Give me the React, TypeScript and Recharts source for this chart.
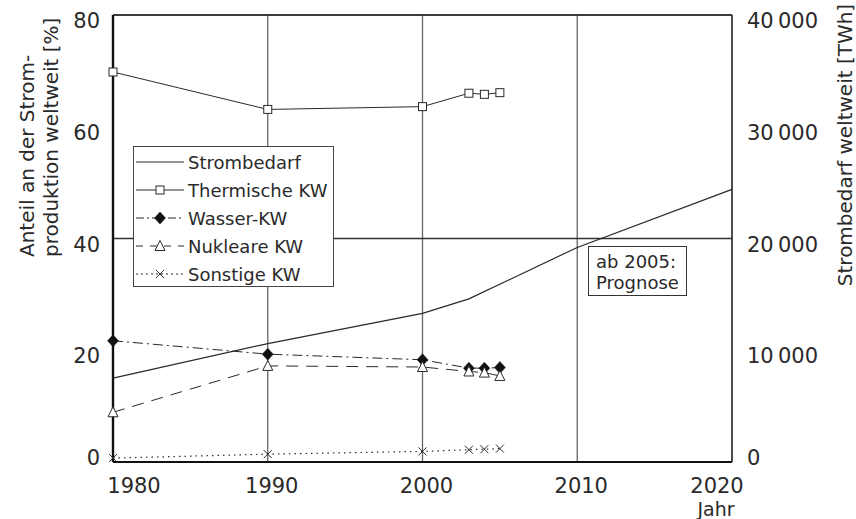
import React from 'react';
import { LineChart, Line, XAxis, YAxis, CartesianGrid, ReferenceLine } from 'recharts';

// ---- data ----
const shareYears = [1980, 1990, 2000, 2003, 2004, 2005];
const thermische = [69.8, 63.1, 63.6, 66.0, 65.8, 66.1];
const wasser = [21.7, 19.3, 18.3, 16.8, 16.8, 16.9];
const nukleare = [8.9, 17.2, 17.0, 16.2, 16.0, 15.4];
const sonstige = [0.7, 1.4, 1.9, 2.2, 2.3, 2.4];

const demandYears = [1980, 1990, 2000, 2003, 2010, 2020];
const strombedarf = [7500, 10600, 13300, 14600, 19200, 24400];

const xTicks = [1980, 1990, 2000, 2010, 2020];
const leftTicks = [0, 20, 40, 60, 80];
const rightTicks = [0, 10000, 20000, 30000, 40000];

const seriesNames = ['Strombedarf', 'Thermische KW', 'Wasser-KW', 'Nukleare KW', 'Sonstige KW'];

const shareData = shareYears.map((year, i) => ({
  year,
  thermische: thermische[i],
  wasser: wasser[i],
  nukleare: nukleare[i],
  sonstige: sonstige[i],
}));
const demandData = demandYears.map((year, i) => ({ year, strombedarf: strombedarf[i] }));

const FONT = '"DejaVu Sans", sans-serif';
const INK = '#2a2a2a';

// ---- markers ----
const SquareDot = (p: any) => {
  const { cx, cy } = p;
  if (cx == null || cy == null) return null;
  return <rect x={cx - 4} y={cy - 4} width={8} height={8} fill="#fff" stroke={INK} strokeWidth={1} />;
};
const DiamondDot = (p: any) => {
  const { cx, cy } = p;
  if (cx == null || cy == null) return null;
  return <path d={`M${cx},${cy - 6} L${cx + 5.5},${cy} L${cx},${cy + 6} L${cx - 5.5},${cy} Z`} fill="#111" stroke="#111" strokeWidth={0.5} />;
};
const TriangleDot = (p: any) => {
  const { cx, cy } = p;
  if (cx == null || cy == null) return null;
  return <path d={`M${cx},${cy - 5.5} L${cx + 5},${cy + 4.5} L${cx - 5},${cy + 4.5} Z`} fill="#fff" stroke={INK} strokeWidth={1} />;
};
const CrossDot = (p: any) => {
  const { cx, cy } = p;
  if (cx == null || cy == null) return null;
  return (
    <path d={`M${cx - 4},${cy - 4} L${cx + 4},${cy + 4} M${cx - 4},${cy + 4} L${cx + 4},${cy - 4}`} stroke={INK} strokeWidth={1} />
  );
};

// ---- ticks ----
const fmt = (v: number) => (v >= 1000 ? `${Math.floor(v / 1000)}\u2009${String(v % 1000).padStart(3, '0')}` : String(v));

const XTick = (p: any) => {
  const { x, payload } = p;
  const v = payload.value;
  const dx = v === 1980 ? 21 : v === 2020 ? -15 : 4;
  return (
    <text x={x + dx} y={493} textAnchor="middle" fontFamily={FONT} fontSize={21} fill={INK}>
      {v}
    </text>
  );
};
const LeftTick = (p: any) => {
  const { y, payload } = p;
  const v = payload.value;
  const base = v === 0 ? y + 3 : y + 13;
  return (
    <text x={100} y={base} textAnchor="end" fontFamily={FONT} fontSize={21} fill={INK}>
      {v}
    </text>
  );
};
const RightTick = (p: any) => {
  const { y, payload } = p;
  const v = payload.value;
  const base = v === 0 ? y + 3 : y + 13;
  return (
    <text x={747} y={base} textAnchor="start" fontFamily={FONT} fontSize={21} fill={INK}>
      {fmt(v)}
    </text>
  );
};

// ---- legend ----
const legendSamples = [
  { dash: undefined, marker: null },
  { dash: undefined, marker: 'square' },
  { dash: '8 3 2 3', marker: 'diamond' },
  { dash: '7 7', marker: 'triangle' },
  { dash: '2 3', marker: 'cross' },
];

const LegendBox = () => (
  <svg width={202} height={142} style={{ display: 'block' }}>
    <rect x={0.5} y={0.5} width={200} height={140} fill="#fff" stroke="#444" strokeWidth={1} />
    {seriesNames.map((name, i) => {
      const cy = 16 + i * 28;
      const s = legendSamples[i];
      const mx = 27;
      return (
        <g key={name}>
          <line x1={3} x2={51} y1={cy} y2={cy} stroke={INK} strokeWidth={1} strokeDasharray={s.dash} />
          {s.marker === 'square' && <SquareDot cx={mx} cy={cy} />}
          {s.marker === 'diamond' && <DiamondDot cx={mx} cy={cy} />}
          {s.marker === 'triangle' && <TriangleDot cx={mx} cy={cy} />}
          {s.marker === 'cross' && <CrossDot cx={mx} cy={cy} />}
          <text x={55} y={cy + 7} fontFamily={FONT} fontSize={18} fill={INK}>
            {name}
          </text>
        </g>
      );
    })}
  </svg>
);

export default function App() {
  return (
    <div style={{ position: 'absolute', left: 0, top: 0, width: 856, height: 519, background: '#fff' }}>
      <LineChart width={856} height={519} margin={{ top: 15, right: 0, bottom: 0, left: 0 }}>
        <CartesianGrid stroke="#666" strokeWidth={1.3} />
        <XAxis
          dataKey="year"
          type="number"
          domain={[1980, 2020]}
          ticks={xTicks}
          allowDuplicatedCategory={false}
          height={57}
          tickLine={false}
          axisLine={{ stroke: '#111', strokeWidth: 2.2 }}
          tick={<XTick />}
          interval={0}
        />
        <YAxis
          yAxisId="left"
          orientation="left"
          width={113}
          domain={[0, 80]}
          ticks={leftTicks}
          tickLine={false}
          axisLine={{ stroke: '#111', strokeWidth: 2.4 }}
          tick={<LeftTick />}
          interval={0}
        />
        <YAxis
          yAxisId="right"
          orientation="right"
          width={124}
          domain={[0, 40000]}
          ticks={rightTicks}
          tickLine={false}
          axisLine={{ stroke: '#222', strokeWidth: 1.3 }}
          tick={<RightTick />}
          interval={0}
        />
        <ReferenceLine yAxisId="left" y={80} stroke="#222" strokeWidth={1.3} />
        <ReferenceLine yAxisId="left" y={40} stroke="#333" strokeWidth={1.3} />
        <Line
          yAxisId="right"
          data={demandData}
          dataKey="strombedarf"
          name={seriesNames[0]}
          stroke={INK}
          strokeWidth={1.2}
          dot={false}
          isAnimationActive={false}
        />
        <Line
          yAxisId="left"
          data={shareData}
          dataKey="thermische"
          name={seriesNames[1]}
          stroke={INK}
          strokeWidth={1}
          dot={<SquareDot />}
          isAnimationActive={false}
        />
        <Line
          yAxisId="left"
          data={shareData}
          dataKey="wasser"
          name={seriesNames[2]}
          stroke={INK}
          strokeWidth={1}
          strokeDasharray="10 4 2 4"
          dot={<DiamondDot />}
          isAnimationActive={false}
        />
        <Line
          yAxisId="left"
          data={shareData}
          dataKey="nukleare"
          name={seriesNames[3]}
          stroke={INK}
          strokeWidth={1}
          strokeDasharray="12 8"
          dot={<TriangleDot />}
          isAnimationActive={false}
        />
        <Line
          yAxisId="left"
          data={shareData}
          dataKey="sonstige"
          name={seriesNames[4]}
          stroke={INK}
          strokeWidth={1.2}
          strokeDasharray="1.5 4"
          dot={<CrossDot />}
          isAnimationActive={false}
        />
      </LineChart>

      {/* legend */}
      <div style={{ position: 'absolute', left: 133, top: 146 }}>
        <LegendBox />
      </div>

      {/* axis titles */}
      <svg width={856} height={519} style={{ position: 'absolute', left: 0, top: 0, pointerEvents: 'none' }}>
        <text transform="translate(34,257) rotate(-90)" fontFamily={FONT} fontSize={20} fill={INK}>
          Anteil an der Strom-
        </text>
        <text transform="translate(58,257) rotate(-90)" fontFamily={FONT} fontSize={20} fill={INK}>
          produktion weltweit [%]
        </text>
        <text transform="translate(852,145) rotate(-90)" textAnchor="middle" fontFamily={FONT} fontSize={20} fill={INK}>
          Strombedarf weltweit [TWh]
        </text>
        <text x={716} y={516} textAnchor="middle" fontFamily={FONT} fontSize={19} fill={INK}>
          Jahr
        </text>
      </svg>

      {/* annotation */}
      <div
        style={{
          position: 'absolute',
          left: 588,
          top: 246,
          width: 99,
          height: 50,
          border: `1px solid #333`,
          background: '#fff',
          fontFamily: FONT,
          fontSize: 18,
          color: INK,
          lineHeight: '21px',
          paddingLeft: 7,
          paddingTop: 4,
          boxSizing: 'border-box',
        }}
      >
        ab 2005:
        <br />
        Prognose
      </div>
    </div>
  );
}
